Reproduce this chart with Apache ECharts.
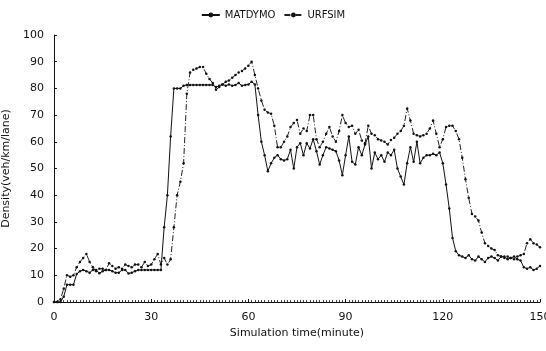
<!DOCTYPE html>
<html><head><meta charset="utf-8">
<script src="https://cdn.jsdelivr.net/npm/echarts@6/dist/echarts.min.js"></script>
<style>html,body{margin:0;padding:0;background:#fff}#c{width:546px;height:351px}</style>
</head><body><div id="c"></div>
<script>
// time in minutes 0..150 (one value per minute)
const minutes = Array.from({length:151},(_,i)=>i);
const xTicks = [0,30,60,90,120,150];
const yTicks = [0,10,20,30,40,50,60,70,80,90,100];
const matdymo = [
0,0,0,2,6.5,6.5,6.5,10.5,11.5,12,
11.5,11,12,12,10.8,11.5,12,12,11.5,11,
11,12,12,10.7,11,11.5,12,12,12,12,
12,12,12,12,28,40,62,80,80,80,
81,81.3,81.3,81.3,81.3,81.3,81.3,81.3,81.3,81.3,
80.5,81,81.5,81,81.5,81,81.3,82,81,81.3,
81.5,82.5,81.5,70,60,55,49,52,54,55,
53.5,53,53.5,57,50,58,59.5,55,59.5,57.5,
61,56.5,51.5,55,58,57.5,57,56.5,53,47.5,
55,62,52.5,51.5,58,55,59,62,50,56,
53.5,55,52.5,56,55,57,50,47,44,52,
58,52.5,60,52,54,55,55,55.5,55,56,
52,44,35,24,19,17.5,17,16.5,17.5,16,
15.5,17,16,15,16.5,17,16.5,15.5,17,17,
16,16.5,17,16,15.5,13,12.5,13,12,12.5,
13.5];
const urfsim = [
0,0,1,5,10,9.5,10,13,15,16.5,
18,15,13,11.5,12.5,12.5,12,14.5,13.5,12.5,
13,12.5,14,13.5,13,14,14,13,15,13.5,
14,16,18,14,16.5,14,16,28,40,45,
52,78,86,87,87.5,88,88,85.5,83.5,82,
79.5,80.5,81.5,82.5,83,84,85,86,86.5,87.5,
88.5,90,85,80,75.5,72,71,70.5,66,58,
58,60,62,65.5,67,68.2,63,65,64,70,
70,61,58,60,63,65.5,62,60,64,70,
67,65.5,66,63,64.5,60.5,59.5,66,63,62.5,
61,60.5,60,59,60.7,61.5,63,64,66,72.5,
68,63,62.5,62,62.5,63,65,68,63,58,
61,65.5,66,66,64,61,54,46,39,33,
32,30.5,26,22,21,20,19.5,17.5,17,16.5,
17,16.5,16,17,17.5,18,22,23.5,22,21.5,
20.5];
const seriesNames = ['MATDYMO','URFSIM'];

const chart = echarts.init(document.getElementById('c'), null, {renderer:'canvas'});
const txt = {color:'#111', fontFamily:'DejaVu Sans', fontSize:11};
chart.setOption({
  animation:false,
  backgroundColor:'#fff',
  legend:{
    top:5, left:'center', itemWidth:18, itemHeight:6, itemGap:8,
    textStyle:{...txt, fontSize:10},
    data:seriesNames
  },
  grid:{left:54, right:6, top:35, bottom:49, containLabel:false, outerBoundsMode:'none'},
  xAxis:{
    type:'value', min:0, max:150, interval:30,
    name:'Simulation time(minute)', nameLocation:'middle', nameGap:24,
    nameTextStyle:{...txt, fontSize:11},
    axisLine:{lineStyle:{color:'#111', width:1}},
    axisTick:{inside:true, length:3, lineStyle:{color:'#111'}},
    minorTick:{show:true, splitNumber:30, length:2, lineStyle:{color:'#444'}},
    axisLabel:{...txt, margin:10, customValues:xTicks},
    splitLine:{show:false}
  },
  yAxis:{
    type:'value', min:0, max:100, interval:10,
    name:'Density(veh/km/lane)', nameLocation:'middle', nameGap:34,
    nameTextStyle:{...txt, fontSize:11},
    axisLine:{show:true, lineStyle:{color:'#111', width:1}},
    axisTick:{show:true, inside:true, length:3, lineStyle:{color:'#111'}},
    axisLabel:{...txt, margin:10},
    splitLine:{show:false}
  },
  series:[
    {name:seriesNames[0], type:'line', data:minutes.map((m,i)=>[m,matdymo[i]]),
     symbol:'circle', symbolSize:2.5, showAllSymbol:true,
     lineStyle:{color:'#111', width:1}, itemStyle:{color:'#111'}},
    {name:seriesNames[1], type:'line', data:minutes.map((m,i)=>[m,urfsim[i]]),
     symbol:'circle', symbolSize:2.5, showAllSymbol:true,
     lineStyle:{color:'#222', width:1, type:[6,2,1,2]}, itemStyle:{color:'#111'}}
  ]
});
</script></body></html>
